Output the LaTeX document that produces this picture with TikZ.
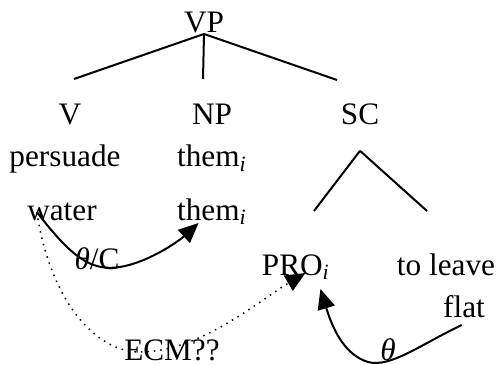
\documentclass[tikz,border=0pt]{standalone}
\usepackage{fontspec}
\setmainfont{Liberation Serif}
\usetikzlibrary{positioning,arrows.meta}

\begin{document}
\begin{tikzpicture}[
    x=0.4pt, y=-0.4pt,
    word/.style={anchor=base,inner sep=0pt,font={\fontsize{12.5}{15}\selectfont}},
    branch/.style={black,line width=0.8pt},
    role/.style={black,line width=0.8pt,-{Triangle[length=8pt,width=7pt]}},
    ecm/.style={black,line width=0.6pt,dotted,-{Triangle[length=8pt,width=7pt]}},
]
    \useasboundingbox (0,0) rectangle (498,365);

    % Categories
    \node[word] at (204,33) (vp) {VP};
    \node[word] at (70,125) (v) {V};
    \node[word] at (212,125) (np) {NP};
    \node[word] at (360,125) (sc) {SC};

    % Words
    \node[word] at (65,167) (persuade) {persuade};
    \node[word] at (212,167) (them1) {them\textsubscript{\textit{i}}};
    \node[word] at (62,220) (water) {water};
    \node[word] at (212,220) (them2) {them\textsubscript{\textit{i}}};
    \node[word] at (296,275) (pro) {PRO\textsubscript{\textit{i}}};
    \node[word] at (446,275) (leave) {to leave};
    \node[word] at (464,317) (flat) {flat};

    % Branches
    \coordinate (v-end) at (74,79);
    \coordinate (np-end) at (203,79);
    \coordinate (sc-end) at (337,80);
    \coordinate (sc-top) at ([yshift=-10pt]sc.south);
    \coordinate (pro-end) at (314,211);
    \coordinate (leave-end) at (427,211);
    \draw[branch] (vp.south) -- (v-end);
    \draw[branch] (vp.south) -- (np-end);
    \draw[branch] (vp.south) -- (sc-end);
    \draw[branch] (sc-top) -- (pro-end);
    \draw[branch] (sc-top) -- (leave-end);

    % Arrows
    \draw[role] ([shift={(10,-8)}]water.base west) .. controls (70,255) and (90,272) .. (120,267)
        .. controls (150,262) and (180,240) .. ([shift={(22,3)}]them2.base west); % theta/C
    \draw[ecm] ([shift={(10,-8)}]water.base west) .. controls (50,300) and (95,352) .. (140,352)
        .. controls (200,352) and (260,300) .. ([shift={(44,-2)}]pro.base west); % ECM
    \draw[role] ([shift={(19,8)}]flat.base west) .. controls (420,345) and (390,368) .. (368,362)
        .. controls (345,355) and (333,330) .. ([shift={(59,14)}]pro.base west); % theta

    % Labels
    \node[word] at (97,269) (thetac) {\textit{θ}/C};
    \node[word] at (172,360) (ecmlabel) {ECM??};
    \node[word] at (388,360) (theta) {\textit{θ}};

\end{tikzpicture}
\end{document}
